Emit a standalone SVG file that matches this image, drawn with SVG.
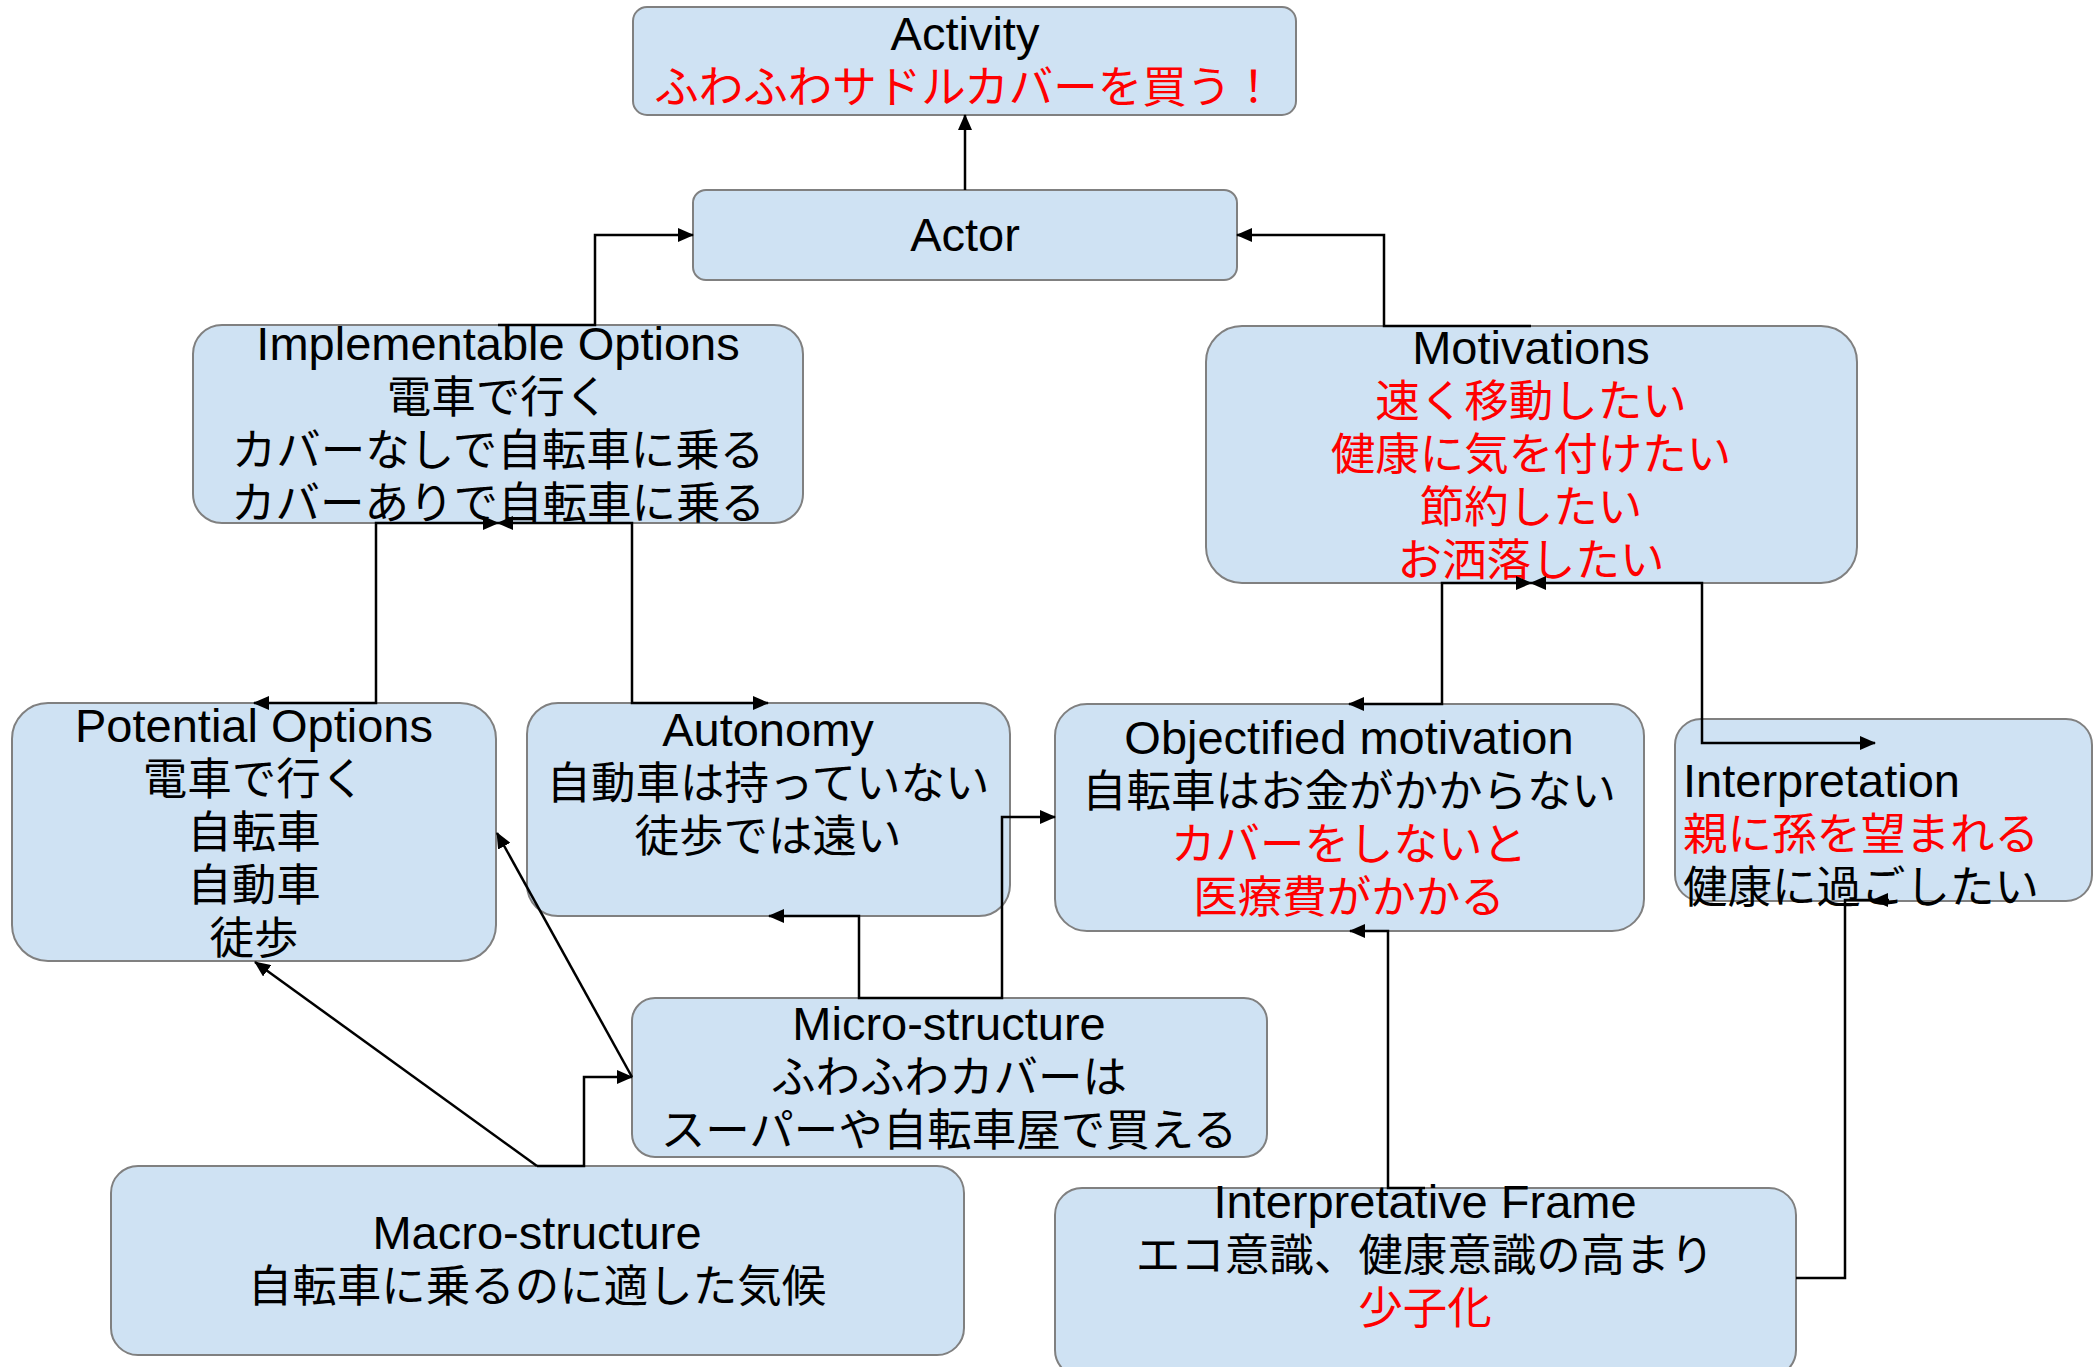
<svg xmlns="http://www.w3.org/2000/svg" width="2093" height="1367" viewBox="0 0 2093 1367">
<style>
.box{fill:#cfe2f3;stroke:#808080;stroke-width:2}
.t{font-family:"Liberation Sans","Noto Sans CJK JP",sans-serif;fill:#000}
.en{font-size:47px}
.jp{font-size:44.5px;font-family:"Noto Sans CJK JP","Liberation Sans",sans-serif}
.red{fill:#ff0000}
.mid{text-anchor:middle}
.c{fill:none;stroke:#000;stroke-width:2.5}
</style>
<defs>
<marker id="ah" markerUnits="userSpaceOnUse" markerWidth="16" markerHeight="14" refX="15" refY="7" orient="auto-start-reverse" viewBox="0 0 16 14">
<path d="M0,0 L16,7 L0,14 z" fill="#000"/>
</marker>
</defs>
<rect x="0" y="0" width="2093" height="1367" fill="#fff"/>

<g id="activity">
<rect class="box" x="633" y="7" width="663" height="108" rx="14"/>
<text class="t en mid" x="965" y="50">Activity</text>
<text class="t jp mid red" x="965" y="103">ふわふわサドルカバーを買う！</text>
</g>
<g id="actor">
<rect class="box" x="693" y="190" width="544" height="90" rx="13"/>
<text class="t en mid" x="965" y="251">Actor</text>
</g>
<g id="implementable-options">
<rect class="box" x="193" y="325" width="610" height="198" rx="29"/>
<text class="t en mid" x="498" y="360">Implementable Options</text>
<text class="t jp mid" x="498" y="413">電車で行く</text>
<text class="t jp mid" x="498" y="466">カバーなしで自転車に乗る</text>
<text class="t jp mid" x="498" y="519">カバーありで自転車に乗る</text>
</g>
<g id="motivations">
<rect class="box" x="1206" y="326" width="651" height="257" rx="36"/>
<text class="t en mid" x="1531" y="364">Motivations</text>
<text class="t jp mid red" x="1531" y="417">速く移動したい</text>
<text class="t jp mid red" x="1531" y="470">健康に気を付けたい</text>
<text class="t jp mid red" x="1531" y="523">節約したい</text>
<text class="t jp mid red" x="1531" y="576">お洒落したい</text>
</g>
<g id="potential-options">
<rect class="box" x="12" y="703" width="484" height="258" rx="36"/>
<text class="t en mid" x="254" y="742">Potential Options</text>
<text class="t jp mid" x="254" y="795">電車で行く</text>
<text class="t jp mid" x="254" y="848">自転車</text>
<text class="t jp mid" x="254" y="901">自動車</text>
<text class="t jp mid" x="254" y="954">徒歩</text>
</g>
<g id="autonomy">
<rect class="box" x="527" y="703" width="483" height="213" rx="31"/>
<text class="t en mid" x="768" y="746">Autonomy</text>
<text class="t jp mid" x="768" y="799">自動車は持っていない</text>
<text class="t jp mid" x="768" y="852">徒歩では遠い</text>
</g>
<g id="objectified-motivation">
<rect class="box" x="1055" y="704" width="589" height="227" rx="32"/>
<text class="t en mid" x="1349" y="754">Objectified motivation</text>
<text class="t jp mid" x="1349" y="807">自転車はお金がかからない</text>
<text class="t jp mid red" x="1349" y="860">カバーをしないと</text>
<text class="t jp mid red" x="1349" y="913">医療費がかかる</text>
</g>
<g id="interpretation">
<rect class="box" x="1675" y="719" width="417" height="182" rx="26"/>
<text class="t en" x="1683" y="797">Interpretation</text>
<text class="t jp red" x="1683" y="850">親に孫を望まれる</text>
<text class="t jp" x="1683" y="903">健康に過ごしたい</text>
</g>
<g id="micro-structure">
<rect class="box" x="632" y="998" width="635" height="159" rx="23"/>
<text class="t en mid" x="949" y="1040">Micro-structure</text>
<text class="t jp mid" x="949" y="1093">ふわふわカバーは</text>
<text class="t jp mid" x="949" y="1146">スーパーや自転車屋で買える</text>
</g>
<g id="macro-structure">
<rect class="box" x="111" y="1166" width="853" height="189" rx="27"/>
<text class="t en mid" x="537" y="1249">Macro-structure</text>
<text class="t jp mid" x="537" y="1302">自転車に乗るのに適した気候</text>
</g>
<g id="interpretative-frame">
<rect class="box" x="1055" y="1188" width="741" height="189" rx="27"/>
<text class="t en mid" x="1425" y="1218">Interpretative Frame</text>
<text class="t jp mid" x="1425" y="1271">エコ意識、健康意識の高まり</text>
<text class="t jp mid red" x="1425" y="1324">少子化</text>
</g>

<g id="connectors">
<path class="c" d="M965,190 V115" marker-end="url(#ah)"/>
<path class="c" d="M498,325 H595 V235 H693" marker-end="url(#ah)"/>
<path class="c" d="M1531,326 H1384 V235 H1237" marker-end="url(#ah)"/>
<path class="c" d="M254,703 H376 V523 H498" marker-start="url(#ah)" marker-end="url(#ah)"/>
<path class="c" d="M768,703 H632 V523 H498" marker-start="url(#ah)" marker-end="url(#ah)"/>
<path class="c" d="M1349,704 H1442 V583 H1531" marker-start="url(#ah)" marker-end="url(#ah)"/>
<path class="c" d="M1875,743 H1702 V583 H1531" marker-start="url(#ah)" marker-end="url(#ah)"/>
<path class="c" d="M949,998 H859 V916 H769" marker-end="url(#ah)"/>
<path class="c" d="M949,998 H1002 V817 H1055" marker-end="url(#ah)"/>
<path class="c" d="M632,1077 L497,833" marker-end="url(#ah)"/>
<path class="c" d="M537,1166 L255,962" marker-end="url(#ah)"/>
<path class="c" d="M537,1166 H584 V1077 H632" marker-end="url(#ah)"/>
<path class="c" d="M1425,1188 H1388 V931 H1350" marker-end="url(#ah)"/>
<path class="c" d="M1796,1278 H1845 V900 H1888"/>
<path class="c" d="M1889,900 H1873" marker-end="url(#ah)"/>
</g>
</svg>
